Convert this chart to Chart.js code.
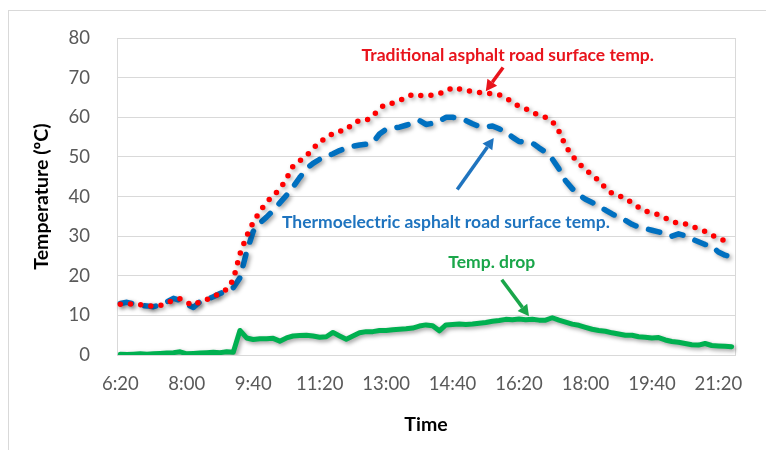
<!DOCTYPE html>
<html>
<head>
<meta charset="utf-8">
<script src="https://cdn.jsdelivr.net/npm/chart.js@4.4.1/dist/chart.umd.min.js"></script>
<style>
  html, body { margin: 0; padding: 0; background: #ffffff; }
  #wrap { width: 766px; height: 450px; position: relative; }
</style>
</head>
<body>
<div id="wrap"><canvas id="c" width="766" height="450"></canvas></div>
<script>
// ---- data (10-minute readings, 6:20 .. 21:40) ----
const timeLabels = [
  '6:20','6:30','6:40','6:50','7:00','7:10','7:20','7:30','7:40','7:50',
  '8:00','8:10','8:20','8:30','8:40','8:50','9:00','9:10','9:20','9:30',
  '9:40','9:50','10:00','10:10','10:20','10:30','10:40','10:50','11:00','11:10',
  '11:20','11:30','11:40','11:50','12:00','12:10','12:20','12:30','12:40','12:50',
  '13:00','13:10','13:20','13:30','13:40','13:50','14:00','14:10','14:20','14:30',
  '14:40','14:50','15:00','15:10','15:20','15:30','15:40','15:50','16:00','16:10',
  '16:20','16:30','16:40','16:50','17:00','17:10','17:20','17:30','17:40','17:50',
  '18:00','18:10','18:20','18:30','18:40','18:50','19:00','19:10','19:20','19:30',
  '19:40','19:50','20:00','20:10','20:20','20:30','20:40','20:50','21:00','21:10',
  '21:20','21:30','21:40'
];
const shownTicks = ['6:20','8:00','9:40','11:20','13:00','14:40','16:20','18:00','19:40','21:20'];
const yTicks = [0, 10, 20, 30, 40, 50, 60, 70, 80];

const traditionalTemp = [
  12.8,12.9,12.8,12.7,12.5,12.3,12.5,13.0,14.0,14.2,
  13.2,12.5,13.5,14.0,14.6,15.8,16.5,19.0,25.5,30.0,
  33.5,36.3,38.5,40.3,41.8,44.5,47.7,49.0,50.3,52.0,
  54.0,54.6,56.0,56.5,56.8,58.5,59.2,59.2,60.3,62.3,
  63.4,63.6,64.2,65.0,65.8,65.5,65.4,65.6,66.0,66.5,
  67.6,67.2,66.7,66.6,66.3,66.0,66.0,65.7,65.0,63.8,
  62.8,62.2,61.2,60.6,60.0,59.0,56.5,52.8,50.3,48.4,
  46.8,45.5,44.0,42.2,40.8,40.2,39.6,38.4,37.3,36.3,
  36.0,35.4,34.6,33.8,33.2,33.1,32.5,31.8,31.2,30.3,
  29.5,28.8,28.0
];
const thermoelectricTemp = [
  13.0,13.3,12.9,12.5,12.4,12.2,12.6,13.4,14.3,13.8,
  12.8,12.0,13.5,14.0,14.7,15.5,16.3,17.0,19.5,26.0,
  31.2,33.3,34.8,36.5,38.4,40.3,42.4,44.8,47.0,48.4,
  49.4,50.1,50.8,51.6,52.3,52.7,53.0,53.2,53.6,55.8,
  57.0,57.3,57.5,58.0,58.5,59.2,58.2,58.5,59.0,60.0,
  60.0,59.7,59.2,58.4,57.7,57.6,57.8,57.1,56.3,55.0,
  53.9,53.7,53.5,52.3,51.2,49.5,47.0,44.0,42.0,40.5,
  39.3,38.5,37.5,36.6,35.6,34.8,34.0,33.0,32.3,31.9,
  31.5,31.1,30.6,30.0,30.6,30.1,29.3,28.6,27.9,27.5,
  26.0,25.2,24.8
];
const tempDrop = [
  0.2,0.1,0.2,0.3,0.2,0.3,0.4,0.5,0.6,0.8,
  0.3,0.4,0.5,0.6,0.7,0.6,0.8,0.7,6.2,4.3,
  3.9,4.1,4.1,4.2,3.5,4.3,4.8,4.9,5.0,4.8,
  4.5,4.6,5.7,4.8,4.0,4.8,5.6,5.9,5.9,6.2,
  6.2,6.4,6.5,6.6,6.8,7.3,7.6,7.4,6.1,7.6,
  7.7,7.8,7.7,7.8,8.0,8.2,8.5,8.7,9.0,8.9,
  9.1,8.9,9.0,8.8,8.8,9.4,8.8,8.3,7.8,7.5,
  7.0,6.5,6.2,6.0,5.6,5.3,5.0,5.0,4.6,4.5,
  4.3,4.4,3.8,3.4,3.2,2.9,2.6,2.5,2.9,2.4,
  2.3,2.2,2.1
];

// annotation anchors in data space: [category index, value]
const notes = [
  { text: 'Traditional asphalt road surface temp.', color: '#e8141c', at: [58.3, 75.6],
    arrow: [[57.6, 72.6], [55.0, 66.6]] },
  { text: 'Thermoelectric asphalt road surface temp.', color: '#1f74bf', at: [49.0, 33.6],
    arrow: [[50.7, 41.8], [56.2, 54.8]] },
  { text: 'Temp. drop', color: '#1aa64a', at: [55.9, 23.3],
    arrow: [[57.4, 19.0], [61.5, 9.8]] }
];

const FONT = 'Lato, "Open Sans", "Liberation Sans", sans-serif';

const framePlugin = {
  id: 'frame',
  beforeDraw(chart) {
    const ctx = chart.ctx;
    ctx.save();
    ctx.fillStyle = '#ffffff';
    ctx.fillRect(0, 0, chart.width, chart.height);
    ctx.strokeStyle = '#d9d9d9';
    ctx.lineWidth = 1;
    ctx.strokeRect(8.5, 10.5, 900, 600);
    ctx.restore();
  },
  beforeDatasetsDraw(chart) {
    const {ctx, chartArea: a} = chart;
    ctx.save();
    ctx.strokeStyle = '#d9d9d9';
    ctx.lineWidth = 1;
    ctx.strokeRect(Math.round(a.left) + 0.5, Math.round(a.top) + 0.5,
                   Math.round(a.right - a.left), Math.round(a.bottom - a.top));
    ctx.restore();
    ctx.save();
    ctx.shadowColor = 'rgba(0,0,0,0.38)';
    ctx.shadowBlur = 4;
    ctx.shadowOffsetX = 2;
    ctx.shadowOffsetY = 2;
  },
  afterDatasetsDraw(chart) {
    chart.ctx.restore();
    const {ctx, scales: {x, y}} = chart;
    ctx.save();
    notes.forEach(n => {
      const px = x.getPixelForValue(n.at[0]);
      const py = y.getPixelForValue(n.at[1]);
      ctx.font = 'bold 17.5px ' + FONT;
      ctx.fillStyle = n.color;
      ctx.textAlign = 'center';
      ctx.textBaseline = 'middle';
      ctx.fillText(n.text, px, py);
      const x0 = x.getPixelForValue(n.arrow[0][0]), y0 = y.getPixelForValue(n.arrow[0][1]);
      const x1 = x.getPixelForValue(n.arrow[1][0]), y1 = y.getPixelForValue(n.arrow[1][1]);
      const ang = Math.atan2(y1 - y0, x1 - x0);
      const head = 11, hw = 6;
      const bx = x1 - head * Math.cos(ang), by = y1 - head * Math.sin(ang);
      ctx.strokeStyle = n.color;
      ctx.lineWidth = 3.5;
      ctx.beginPath();
      ctx.moveTo(x0, y0);
      ctx.lineTo(bx, by);
      ctx.stroke();
      ctx.fillStyle = n.color;
      ctx.beginPath();
      ctx.moveTo(x1, y1);
      ctx.lineTo(bx + hw * Math.sin(ang), by - hw * Math.cos(ang));
      ctx.lineTo(bx - hw * Math.sin(ang), by + hw * Math.cos(ang));
      ctx.closePath();
      ctx.fill();
    });
    ctx.restore();
  }
};

new Chart(document.getElementById('c'), {
  type: 'line',
  data: {
    labels: timeLabels,
    datasets: [
      { label: 'Traditional asphalt road surface temp.', data: traditionalTemp,
        borderColor: '#ff0000', borderWidth: 5.5, borderDash: [0, 10.2],
        borderCapStyle: 'round', borderJoinStyle: 'round', pointRadius: 0, tension: 0, order: 1 },
      { label: 'Thermoelectric asphalt road surface temp.', data: thermoelectricTemp,
        borderColor: '#0070c0', borderWidth: 5.5, borderDash: [11.5, 13],
        borderCapStyle: 'round', borderJoinStyle: 'round', pointRadius: 0, tension: 0, order: 2 },
      { label: 'Temp. drop', data: tempDrop,
        borderColor: '#00b050', borderWidth: 5,
        borderCapStyle: 'round', borderJoinStyle: 'round', pointRadius: 0, tension: 0, order: 3 }
    ]
  },
  options: {
    responsive: false,
    animation: false,
    devicePixelRatio: 1,
    layout: { padding: { left: 0, right: 31, top: 34, bottom: 0 } },
    plugins: { legend: { display: false }, tooltip: { enabled: false } },
    scales: {
      x: {
        type: 'category',
        offset: true,
        grid: { display: false, drawTicks: false },
        border: { display: false },
        ticks: {
          autoSkip: false, maxRotation: 0, minRotation: 0, padding: 18,
          color: '#595959', font: { family: FONT, size: 18.5 },
          callback: function(v, i) { const l = this.getLabelForValue(v); return shownTicks.includes(l) ? l : ''; }
        },
        title: { display: true, text: 'Time', color: '#000000',
                 font: { family: FONT, size: 19.5, weight: 'bold' }, padding: { top: 0, bottom: 14 } },
        afterFit(s) { s.height = 95; }
      },
      y: {
        min: 0, max: 80,
        afterBuildTicks(s) { s.ticks = yTicks.map(v => ({ value: v })); },
        grid: { color: '#d9d9d9', lineWidth: 1, drawTicks: false },
        border: { display: false },
        ticks: { padding: 27, color: '#595959', font: { family: FONT, size: 18.5 } },
        title: { display: true, text: 'Temperature (ºC)', color: '#000000',
                 font: { family: FONT, size: 19.5, weight: 'bold' }, padding: { top: 30, bottom: 0 } },
        afterFit(s) { s.width = 117; }
      }
    }
  },
  plugins: [framePlugin]
});
</script>
</body>
</html>
